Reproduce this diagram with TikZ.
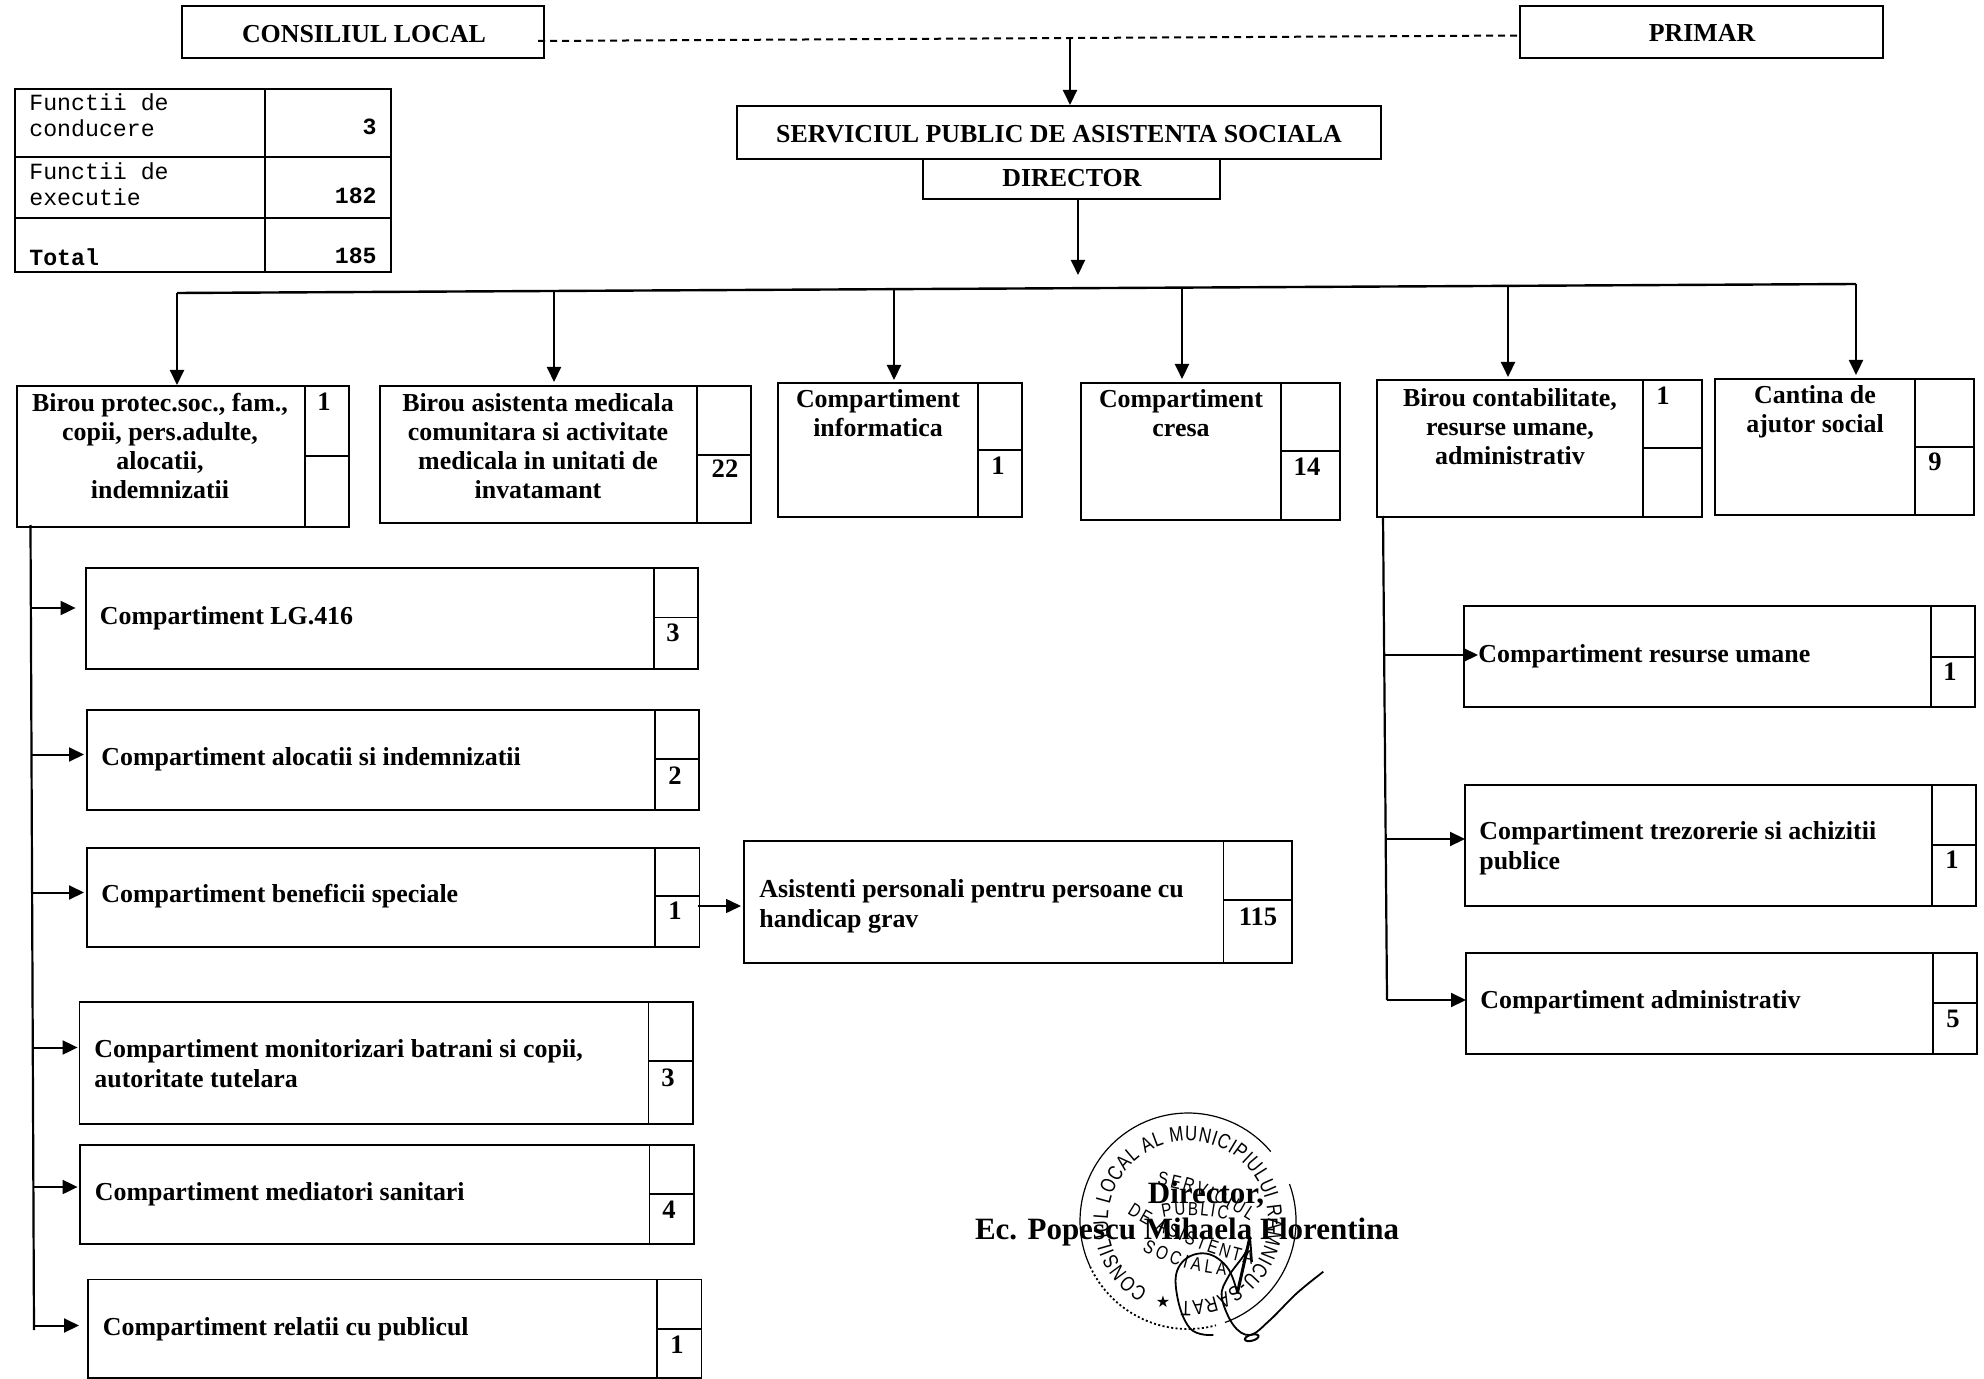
\documentclass[tikz,border=0pt]{standalone}
\usepackage{fontspec}
\setmainfont{Liberation Serif}
\newfontfamily\monof{Liberation Mono}
\newfontfamily\stampf[FakeStretch=0.8]{Liberation Sans}
\newfontfamily\symf{DejaVu Sans}
\usetikzlibrary{fit,calc,arrows.meta,decorations.text}
\tikzset{
  bx/.style={draw=black,line width=1pt,inner sep=0pt,outer sep=0pt},
  thinbx/.style={draw=black,line width=0.85pt,inner sep=0pt,outer sep=0pt},
  conn/.style={draw=black,line width=1pt},
  arr/.style={conn,-{Triangle[length=7.5pt,width=7pt]}},
  lab/.style={inner sep=0pt,font=\fontsize{12.95}{14.6}\selectfont\bfseries,align=center},
  labl/.style={inner sep=0pt,font=\fontsize{12.95}{15}\selectfont\bfseries,align=left,anchor=west},
  num/.style={inner sep=0pt,font=\fontsize{13.3}{14.7}\selectfont\bfseries},
  mono/.style={inner sep=0pt,font=\fontsize{11.6}{13}\selectfont\monof,align=left,anchor=west},
  monon/.style={inner sep=0pt,font=\fontsize{11.6}{13}\selectfont\monof\bfseries,anchor=east},
  stamptext/.style={postaction={decorate},decoration={text along path,text align={fit to path},text={|\fontsize{#1}{10}\stampf|\stamptxt}}},
}
\newcommand{\cellbox}[8][bx]{%
  \node (#2)  [#1,fit={(#3,#4)(#5,#8)}] {};
  \node (#2u) [#1,fit={(#5,#4)(#7,#6)}] {};
  \node (#2d) [#1,fit={(#5,#6)(#7,#8)}] {};
}
\begin{document}
\begin{tikzpicture}[x=0.5pt,y=-0.5pt]
\useasboundingbox (0,0) rectangle (1984,1379);
% header boxes
\node (cons) [bx,fit={(182,6)(544,58)}] {};
\node (consT) [lab] at (364,34) {CONSILIUL LOCAL};
\node (prim) [bx,fit={(1520,6)(1883,58)}] {};
\node (primT) [lab] at (1702,33) {PRIMAR};
\node (serv) [bx,fit={(737,106)(1381,159)}] {};
\node (servT) [lab] at (1059,134) {SERVICIUL PUBLIC DE ASISTENTA SOCIALA};
\node (dir) [bx,fit={(923,159)(1220,199)}] {};
\node (dirT) [lab] at (1072,178) {DIRECTOR};
% dashed link
\coordinate (dL) at (538,41);
\coordinate (dR) at (1520,35.5);
\coordinate (dM) at (1070,39);
\draw[conn,dash pattern=on 3.5pt off 2.5pt] (dL) -- (dR);
\draw[arr,shorten >=0.5pt] (dM) -- (dM |- serv.north);
% table
\node (t11) [bx,fit={(15,89)(265,157)}] {};
\node (t12) [bx,fit={(265,89)(391,157)}] {};
\node (t21) [bx,fit={(15,157)(265,218)}] {};
\node (t22) [bx,fit={(265,157)(391,218)}] {};
\node (t31) [bx,fit={(15,218)(265,272)}] {};
\node (t32) [bx,fit={(265,218)(391,272)}] {};
\node (t11T) [mono] at (29,115) {Functii de\\conducere};
\node (t21T) [mono] at (29,184) {Functii de\\executie};
\node (t31T) [mono,font=\fontsize{11.6}{13}\selectfont\monof\bfseries] at (29,257) {Total};
\node (t12T) [monon] at (377,127) {3};
\node (t22T) [monon] at (377,195.5) {182};
\node (t32T) [monon] at (377,256) {185};
% bus
\coordinate (busL) at (177,293);
\coordinate (busR) at (1856,284);
\draw[conn,line width=1.2pt] (busL) -- (busR);
\coordinate (dirDown) at (1078,275);
\draw[arr] (dirDown |- dir.south) -- (dirDown);
% top row boxes
\cellbox{ba}{16.5}{386}{304.5}{456}{349}{527}
\cellbox{bb}{380}{386}{697}{455}{751}{523}
\cellbox{bc}{778}{383}{978}{450}{1022}{516.5}
\cellbox{bd}{1081}{383}{1281}{451}{1340}{520}
\cellbox{be}{1377}{380}{1643}{448}{1702}{517}
\cellbox{bf}{1715}{379}{1915}{447}{1974}{515}
\node (baT) [lab] at (160,446) {Birou protec.soc., fam.,\\copii, pers.adulte,\\alocatii,\\indemnizatii};
\node (bbT) [lab] at (538,446) {Birou asistenta medicala\\comunitara si activitate\\medicala in unitati de\\invatamant};
\node (bcT) [lab] at (878,413.5) {Compartiment\\informatica};
\node (bdT) [lab] at (1181,413.5) {Compartiment\\cresa};
\node (beT) [lab] at (1510,426.5) {Birou contabilitate,\\resurse umane,\\administrativ};
\node (bfT) [lab] at (1815,412) {Cantina de\\ajutor social};
\node (baN) [num] at (324,402) {1};
\node (bbN) [num] at (725,469) {22};
\node (bcN) [num] at (998,466) {1};
\node (bdN) [num] at (1307,467) {14};
\node (beN) [num] at (1663,396) {1};
\node (bfN) [num] at (1935,462) {9};
% drops from bus
\coordinate (d1) at (177,293);
\coordinate (d2) at (554,291);
\coordinate (d3) at (894,289);
\coordinate (d4) at (1182,288);
\coordinate (d5) at (1508,286);
\coordinate (d6) at (1856,284);
\draw[arr,shorten >=0.5pt] (d1) -- (d1 |- ba.north);
\draw[arr,shorten >=2pt] (d2) -- (d2 |- bb.north);
\draw[arr,shorten >=1.5pt] (d3) -- (d3 |- bc.north);
\draw[arr,shorten >=2pt] (d4) -- (d4 |- bd.north);
\draw[arr,shorten >=1.5pt] (d5) -- (d5 |- be.north);
\draw[arr,shorten >=2pt] (d6) -- (d6 |- bf.north);
% left branch
\cellbox[thinbx]{la}{86}{568}{654}{617.5}{698}{669}
\cellbox[thinbx]{lb}{87}{710}{655}{759}{699}{810}
\cellbox[thinbx]{lc}{87}{848}{655}{896}{699.5}{947}
\cellbox[thinbx]{ld}{79.6}{1002}{648.5}{1061}{693}{1124}
\cellbox[thinbx]{le}{80}{1145}{649.5}{1194}{694}{1244}
\cellbox[thinbx]{lf}{88}{1279.5}{657}{1329}{701.5}{1378}
\node (laT) [labl] at (99.5,618.5) {Compartiment LG.416};
\node (lbT) [labl] at (101,759.5) {Compartiment alocatii si indemnizatii};
\node (lcT) [labl] at (101,896.5) {Compartiment beneficii speciale};
\node (ldT) [labl] at (94,1064) {Compartiment monitorizari batrani si copii,\\autoritate tutelara};
\node (leT) [labl] at (94.5,1194.5) {Compartiment mediatori sanitari};
\node (lfT) [labl] at (102.5,1329) {Compartiment relatii cu publicul};
\node (laN) [num] at (673,633) {3};
\node (lbN) [num] at (675,776) {2};
\node (lcN) [num] at (675,911) {1};
\node (ldN) [num] at (668,1078) {3};
\node (leN) [num] at (669,1210) {4};
\node (lfN) [num] at (677,1345) {1};
\coordinate (stemA) at (30.5,525);
\coordinate (stemB) at (34,1330);
\draw[conn,line width=1.1pt] (stemA) -- (stemB);
\coordinate (la0) at (31.5,608);
\coordinate (lb0) at (32,754.5);
\coordinate (lc0) at (32,892.5);
\coordinate (ld0) at (33,1047.5);
\coordinate (le0) at (34,1187);
\coordinate (lf0) at (34,1325.5);
\draw[arr,shorten >=5.2pt] (la0) -- (la0 -| la.west);
\draw[arr,shorten >=1.5pt] (lb0) -- (lb0 -| lb.west);
\draw[arr,shorten >=1.5pt] (lc0) -- (lc0 -| lc.west);
\draw[arr,shorten >=1pt] (ld0) -- (ld0 -| ld.west);
\draw[arr,shorten >=1.2pt] (le0) -- (le0 -| le.west);
\draw[arr,shorten >=4.5pt] (lf0) -- (lf0 -| lf.west);
% assistants box
\cellbox[thinbx]{as}{744}{841}{1223.5}{900}{1292}{963}
\node (asT) [labl] at (759,906) {Asistenti personali pentru persoane cu\\handicap grav};
\node (asN) [num] at (1258,917) {115};
\coordinate (as0) at (697.5,906);
\draw[arr,line width=0.75pt,shorten >=1.5pt] (as0) -- (as0 -| as.west);
% right branch
\cellbox[thinbx]{ra}{1464}{606}{1931}{657}{1975}{707}
\cellbox[thinbx]{rb}{1465}{785}{1932}{845}{1976}{906}
\cellbox[thinbx]{rc}{1466}{953}{1933}{1003}{1977}{1054}
\node (raT) [labl] at (1478,656.5) {Compartiment resurse umane};
\node (rbT) [labl] at (1479,848.5) {Compartiment trezorerie si achizitii\\publice};
\node (rcT) [labl] at (1480,1002.5) {Compartiment administrativ};
\node (raN) [num] at (1950,672) {1};
\node (rbN) [num] at (1952,860) {1};
\node (rcN) [num] at (1953,1019) {5};
\coordinate (rstemA) at (1383,516);
\coordinate (rstemB) at (1387,1000);
\draw[conn,line width=1.1pt] (rstemA) -- (rstemB);
\coordinate (ra0) at (1384,655);
\coordinate (rb0) at (1385,839);
\coordinate (rc0) at (1387,1000);
\draw[arr,shorten >=-7pt] (ra0) -- (ra0 -| ra.west);
\draw[arr] (rb0) -- (rb0 -| rb.west);
\draw[arr] (rc0) -- (rc0 -| rc.west);
% stamp
\begin{scope}[shift={(1188,1221)},y=0.5pt,line width=0.6pt]
  \draw (-70:108) arc (-70:20:108);
  \draw (40:108) arc (40:205:108);
  \draw[dash pattern=on 1pt off 1.2pt,line width=0.9pt] (205:108) arc (205:285:108);
  \def\stamptxt{CONSILIUL LOCAL AL MUNICIPIULUI RAMNICU-SARAT}
  \path[stamptext=10.5] (240:80) arc (240:-95:80);
  \def\stamptxt{SERVICIUL}
  \path[stamptext=9.5] (-31,36) .. controls (0,32) and (35,18) .. (62,0);
  \def\stamptxt{PUBLIC}
  \path[stamptext=9.5] (-25,3) .. controls (-5,8) and (20,6) .. (39,1);
  \def\stamptxt{DE ASISTENTA}
  \path[stamptext=9.5] (-61,8) .. controls (-30,-12) and (20,-35) .. (64,-43);
  \def\stamptxt{SOCIALA}
  \path[stamptext=9.5] (-46,-29) .. controls (-20,-45) and (10,-52) .. (38,-54);
  \node (star) [inner sep=0pt,font=\fontsize{8}{8}\selectfont\symf] at (-25,-81) {★};
  % signature
  \draw[line width=0.9pt] plot[smooth,tension=0.7] coordinates {(25.3,-114) (2,-107.3) (-11.3,-72.3) (-8,-44) (15.3,-32.3) (38.7,-45.7) (49.3,-72.3)};
  \draw[line width=0.9pt] plot[smooth,tension=0.6] coordinates {(135.3,-50.7) (108.7,-72.3) (82,-99) (62,-114) (45.3,-104) (33.7,-75.7) (40.3,-55.7) (57,-32.3) (62,-15.7)};
  \draw[line width=1.5pt] (62,-15.7) -- (49.3,-72.3);
  \draw[line width=0.9pt] (62,-15.7) -- (64,-41);
  \draw[line width=1pt,rotate around={15:(63.7,-116.7)}] (63.7,-116.7) ellipse (7 and 3);
\end{scope}
\node (sigA) [inner sep=0pt,font=\fontsize{15.5}{18}\selectfont\bfseries,anchor=base] at (1206,1203) {Director,};
\node (sigB) [inner sep=0pt,font=\fontsize{15.5}{18}\selectfont\bfseries,anchor=base] at (1187,1239) {Ec. Popescu Mihaela Florentina};
\end{tikzpicture}
\end{document}
